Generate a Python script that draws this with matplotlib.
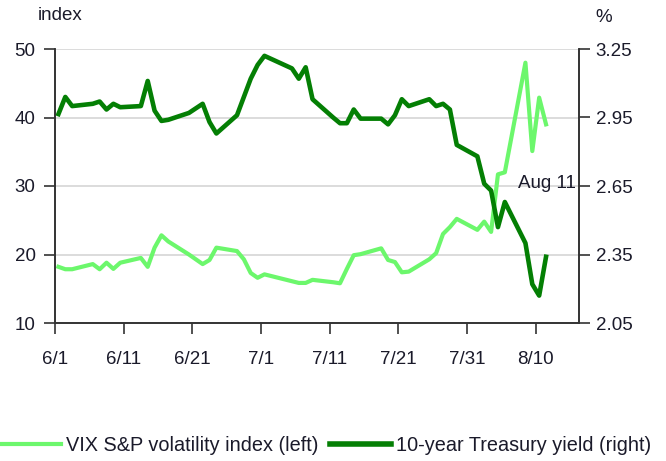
import numpy as np
import matplotlib
matplotlib.use("Agg")
import matplotlib.pyplot as plt
from matplotlib.lines import Line2D

plt.rcParams['font.family'] = ['Liberation Sans', 'DejaVu Sans']

# trading days, as calendar-day offset from 1 June
days = [0, 1, 2, 5, 6, 7, 8, 9, 12, 13, 14, 15, 16, 19, 20, 21, 22, 23,
        26, 27, 28, 29, 30, 34, 35, 36, 37, 40, 41, 42, 43, 44, 47, 48, 49,
        50, 51, 54, 55, 56, 57, 58, 61, 62, 63, 64, 65, 68, 69, 70, 71]

vix = [18.2, 17.85, 17.85, 18.6, 17.85, 18.8, 17.9, 18.8, 19.5, 18.2, 21.0,
       22.8, 21.9, 20.0, 19.3, 18.6, 19.2, 21.0, 20.5, 19.3, 17.3, 16.6,
       17.1, 16.1, 15.85, 15.85, 16.3, 15.95, 15.8, 17.9, 19.9, 20.05, 20.9,
       19.2, 18.9, 17.4, 17.5, 19.3, 20.2, 23.0, 24.0, 25.2, 23.6, 24.8,
       23.3, 31.7, 32.0, 48.0, 35.1, 42.9, 39.0]

yld = [2.965, 3.04, 3.0, 3.01, 3.02, 2.985, 3.01, 2.995, 3.0, 3.11, 2.98,
       2.935, 2.94, 2.97, 2.99, 3.01, 2.93, 2.88, 2.96, 3.04, 3.12, 3.18,
       3.22, 3.165, 3.12, 3.17, 3.03, 2.95, 2.925, 2.925, 2.985, 2.945,
       2.945, 2.92, 2.96, 3.03, 3.0, 3.03, 3.0, 3.01, 2.985, 2.83, 2.78,
       2.66, 2.63, 2.47, 2.58, 2.40, 2.22, 2.17, 2.34]

tick_days = [0, 10, 20, 30, 40, 50, 60, 70]
tick_labels = ['6/1', '6/11', '6/21', '7/1', '7/11', '7/21', '7/31', '8/10']

light = '#6CF76C'
dark = '#047F04'
txt = '#1a1a2a'

fig = plt.figure(figsize=(6.66, 4.61), dpi=100)
ax = fig.add_axes([55 / 666, 1 - 323 / 461, 524 / 666, 274 / 461])
ax2 = ax.twinx()

x = np.array(days) + 0.5
ax.plot(x, vix, color=light, lw=3, solid_joinstyle='round')
ax2.plot(x, yld, color=dark, lw=3.3, solid_joinstyle='round')

ax.set_xlim(0, 76.3)
ax.set_ylim(10, 50)
ax2.set_ylim(2.05, 3.25)
ax.set_yticks([10, 20, 30, 40, 50])
ax2.set_yticks([2.05, 2.35, 2.65, 2.95, 3.25])
ax2.set_yticklabels(['2.05', '2.35', '2.65', '2.95', '3.25'])
ax.set_xticks(tick_days)
ax.set_xticklabels(tick_labels)

ax.yaxis.grid(True, color='#d6d6d6', lw=1.2)
ax.set_axisbelow(True)

for a in (ax, ax2):
    a.spines['top'].set_visible(False)
    for s in ('left', 'right', 'bottom'):
        a.spines[s].set_color('#333333')
        a.spines[s].set_linewidth(1.2)
    a.tick_params(length=8, width=1.2, color='#333333', labelsize=13.5,
                  labelcolor=txt, pad=4)
ax.tick_params(axis='y', pad=6)
ax.tick_params(axis='x', pad=12)

ax.text(75.8, 30.4, 'Aug 11', ha='right', va='center', fontsize=13.5, color=txt)

fig.text(38 / 666, 1 - 16 / 461, 'index', ha='left', va='center', fontsize=13.5, color=txt)
fig.text(595 / 666, 1 - 17 / 461, '%', ha='left', va='center', fontsize=13.5, color=txt)

handles = [Line2D([], [], color=light, lw=3),
           Line2D([], [], color=dark, lw=4)]
fig.legend(handles, ['VIX S&P volatility index (left)', '10-year Treasury yield (right)'],
           loc='center', bbox_to_anchor=(0.489, 1 - 445 / 461), ncol=2, frameon=False,
           fontsize=14.3, handlelength=3.05, handletextpad=0.25, columnspacing=0.6,
           labelcolor=txt)

fig.savefig('out.png', dpi=100)
